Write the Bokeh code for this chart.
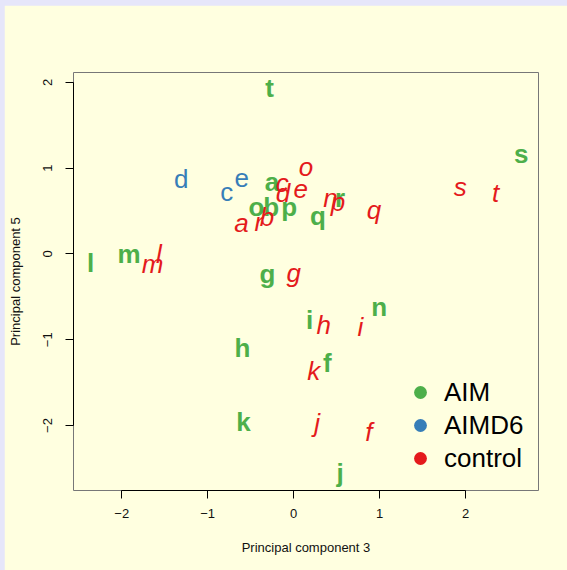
from bokeh.plotting import figure
from bokeh.models import (ColumnDataSource, Range1d, FixedTicker, Legend, LegendItem)
from bokeh.layouts import column
from bokeh.core.properties import value
from bokeh.embed import file_html
from bokeh.resources import INLINE

# ---- data ----
aim_labels = ["a", "b", "f", "g", "h", "i", "j", "k", "l", "m", "n", "o", "p", "q", "r", "s", "t"]
aim_x = [-0.253, -0.262, 0.391, -0.305, -0.595, 0.186, 0.542, -0.584, -2.362, -1.916,
         0.995, -0.433, -0.052, 0.284, 0.539, 2.649, -0.279]
aim_y = [0.843, 0.551, -1.275, -0.238, -1.092, -0.769, -2.551, -1.963, -0.110, 0.000,
         -0.614, 0.551, 0.551, 0.446, 0.648, 1.163, 1.930]

aimd6_labels = ["c", "d", "e"]
aimd6_x = [-0.779, -1.307, -0.604]
aimd6_y = [0.718, 0.874, 0.886]

control_labels = ["a", "b", "c", "d", "e", "f", "g", "h", "i", "j",
                  "k", "l", "m", "n", "o", "p", "q", "r", "s", "t"]
control_x = [-0.607, -0.309, -0.133, -0.125, 0.084, 0.876, 0.002, 0.351, 0.777, 0.273,
             0.234, -1.568, -1.642, 0.428, 0.144, 0.517, 0.934, -0.404, 1.938, 2.351]
control_y = [0.357, 0.435, 0.823, 0.706, 0.753, -2.071, -0.226, -0.828, -0.847, -1.966,
             -1.364, 0.000, -0.117, 0.648, 1.009, 0.610, 0.513, 0.376, 0.784, 0.706]

group_names = ["AIM", "AIMD6", "control"]
group_colors = ["#4DAF4A", "#377EB8", "#E41A1C"]
group_styles = ["bold", "normal", "italic"]

x_ticks = [-2, -1, 0, 1, 2]
y_ticks = [-2, -1, 0, 1, 2]
tick_text = {-2: "\u22122", -1: "\u22121", 0: "0", 1: "1", 2: "2"}

x_title = "Principal component 3"
y_title = "Principal component 5"

# ---- figure ----
BG = "#FFFFE0"
FONT = "Liberation Sans"

p = figure(width=563, height=565, output_backend="svg", toolbar_location=None,
           x_range=Range1d(-2.561, 2.849), y_range=Range1d(-2.758, 2.116),
           min_border_left=68, min_border_right=29, min_border_top=67, min_border_bottom=80,
           background_fill_color=BG, border_fill_color=BG, margin=(5, 0, 0, 4))
p.outline_line_color = "#777777"
p.outline_line_width = 1
p.grid.visible = False

for ax, ticks, title, standoff in ((p.xaxis[0], x_ticks, x_title, 10), (p.yaxis[0], y_ticks, y_title, 13)):
    ax.ticker = FixedTicker(ticks=ticks)
    ax.bounds = (min(ticks), max(ticks))
    ax.major_label_overrides = {t: tick_text[t] for t in ticks}
    ax.axis_line_color = "black"
    ax.major_tick_line_color = "black"
    ax.major_tick_out = 8
    ax.major_tick_in = 0
    ax.minor_tick_line_color = None
    ax.major_label_text_font = FONT
    ax.major_label_text_font_size = "13px"
    ax.major_label_text_color = "#111111"
    ax.major_label_standoff = standoff
    ax.axis_label = title
    ax.axis_label_text_font = FONT
    ax.axis_label_text_font_size = "13px"
    ax.axis_label_text_font_style = "normal"
    ax.axis_label_text_color = "#111111"
p.xaxis[0].axis_label_standoff = 19
p.yaxis[0].axis_label_standoff = 18
p.yaxis[0].major_label_orientation = "vertical"

groups = [(aim_labels, aim_x, aim_y), (aimd6_labels, aimd6_x, aimd6_y),
          (control_labels, control_x, control_y)]

legend_items = []
for (labels, xs, ys), name, color, style in zip(groups, group_names, group_colors, group_styles):
    src = ColumnDataSource(dict(x=xs, y=ys, label=labels))
    # zero-size markers: invisible in the plot, only used to draw the legend glyph
    key = p.scatter(x="x", y="y", source=src, marker="circle", size=0,
                    fill_color=color, line_color=None)
    p.text(x="x", y="y", text="label", source=src, text_color=color,
           text_font=value(FONT), text_font_size="26px", text_font_style=style,
           text_align="center", text_baseline="alphabetic")
    legend_items.append(LegendItem(label=name, renderers=[key]))

legend = Legend(items=legend_items, location=(331, 16), orientation="vertical",
                glyph_width=32, glyph_height=32, label_height=32, spacing=1,
                label_standoff=8, padding=0, margin=0,
                border_line_color=None, background_fill_alpha=0,
                label_text_font=FONT, label_text_font_size="26px", label_text_color="black")
p.add_layout(legend)

layout = column(p, styles={"background-color": "#E6E6FA"})

open("out.html", "w").write(file_html(layout, INLINE))
